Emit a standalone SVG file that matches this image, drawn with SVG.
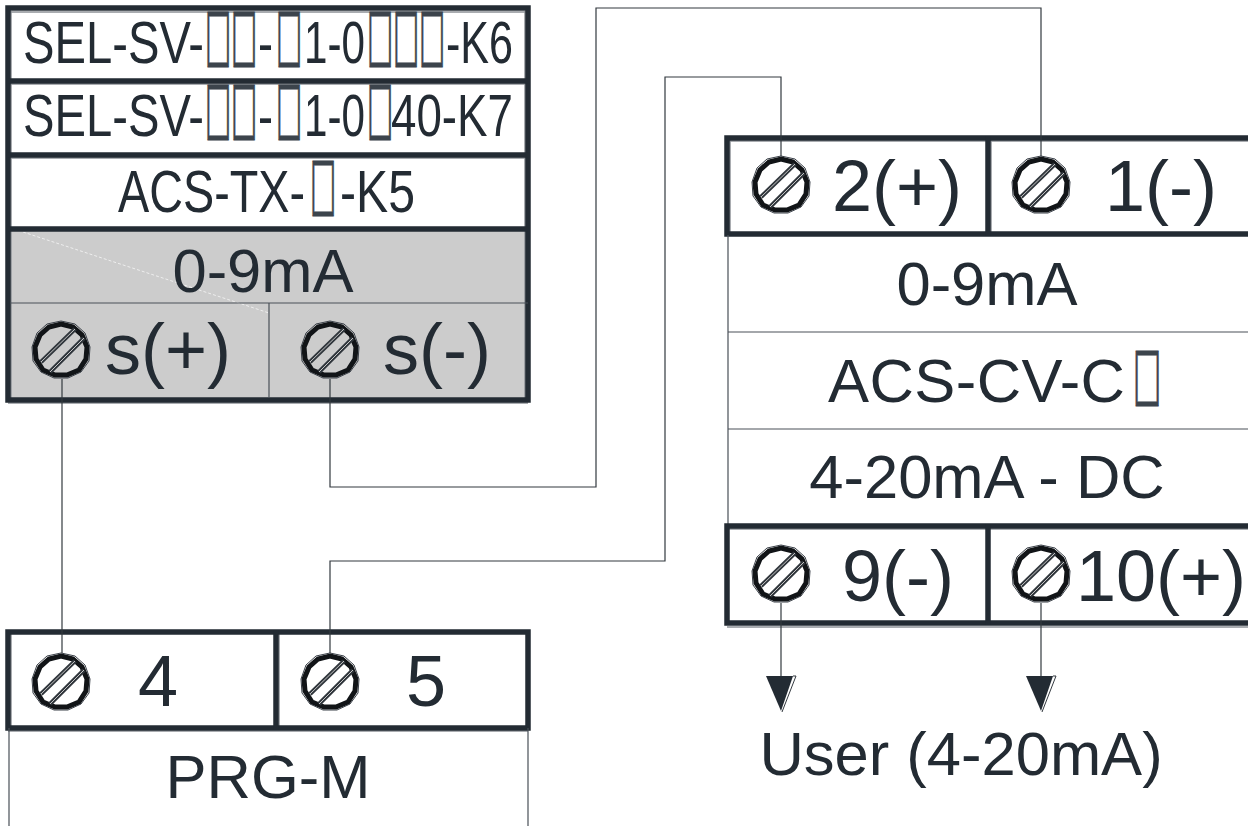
<svg xmlns="http://www.w3.org/2000/svg" xmlns:xlink="http://www.w3.org/1999/xlink" width="1248" height="826" viewBox="0 0 1248 826">
<style>
text{font-family:"Liberation Sans",Arial,sans-serif;fill:#232b33;font-size:61.5px;text-anchor:middle}
.big{font-size:72px}
.cond{font-size:60px;text-anchor:start}
.box{font-family:"DejaVu Sans",sans-serif;font-size:72px;fill:#3c444c;stroke:#3c444c;stroke-width:1}
.frame{fill:none;stroke:#232b33;stroke-width:5.5}
.shade{fill:none;stroke:#8d9196;stroke-width:1.5}
.thin{fill:none;stroke:#4a5058;stroke-width:1.2}
.wire{fill:none;stroke:#33393f;stroke-width:1.2}
</style>
<defs>
<g id="screw">
<polygon points="0,-26 12,-23 21,-15 26,-3 25,9 18,20 6,25 -6,25 -18,20 -25,9 -26,-3 -21,-15 -12,-23" fill="none" stroke="#111417" stroke-width="5"/>
<polygon points="0,-29 14,-26 24,-17 29,-3 28,11 20,22 7,28 -7,28 -20,22 -28,11 -29,-3 -24,-17 -14,-26" fill="none" stroke="#3a4048" stroke-width="1"/>
<path d="M-20,12 L14,-21 M-11,22 L23,-12" fill="none" stroke="#30363c" stroke-width="4.5"/>
<path d="M-20,12 L14,-21 M-11,22 L23,-12" fill="none" stroke="#c4c4c4" stroke-width="1"/>
</g>
<g id="tri">
<polygon points="-15,0 12,0 0,35" fill="#232b33"/>
<path d="M12,0H15L1,36" fill="none" stroke="#33393f" stroke-width="1"/>
</g>
</defs>
<rect width="1248" height="826" fill="#fff"/>
<g id="node-transmitter">
<rect x="9" y="230" width="519" height="170" fill="#cccccc"/>
<path d="M23,232L269,313" stroke="#eeeeee" stroke-width="1" stroke-dasharray="3 2" fill="none"/>
<path class="shade" d="M11,11V398M525,11V398M8,84H528M8,158H528M8,12H528M8,403H528"/>
<rect class="frame" x="8" y="8" width="520" height="392"/>
<path class="frame" d="M8,81H528M8,155H528M8,229H528"/>
<path class="thin" d="M10,303H528M269,303V398"/>
<text class="cond" y="63"><tspan x="23" textLength="181" lengthAdjust="spacingAndGlyphs">SEL-SV-</tspan><tspan class="box" x="205" y="58" textLength="26" lengthAdjust="spacingAndGlyphs">□</tspan><tspan class="box" x="231" y="58" textLength="26" lengthAdjust="spacingAndGlyphs">□</tspan><tspan x="258" y="63" textLength="15" lengthAdjust="spacingAndGlyphs">-</tspan><tspan class="box" x="276" y="58" textLength="26" lengthAdjust="spacingAndGlyphs">□</tspan><tspan x="304" y="63" textLength="61" lengthAdjust="spacingAndGlyphs">1-0</tspan><tspan class="box" x="367" y="58" textLength="26" lengthAdjust="spacingAndGlyphs">□</tspan><tspan class="box" x="393" y="58" textLength="26" lengthAdjust="spacingAndGlyphs">□</tspan><tspan class="box" x="419" y="58" textLength="26" lengthAdjust="spacingAndGlyphs">□</tspan><tspan x="446" y="63" textLength="67" lengthAdjust="spacingAndGlyphs">-K6</tspan></text>
<text class="cond" y="136"><tspan x="23" textLength="181" lengthAdjust="spacingAndGlyphs">SEL-SV-</tspan><tspan class="box" x="205" y="131" textLength="26" lengthAdjust="spacingAndGlyphs">□</tspan><tspan class="box" x="231" y="131" textLength="26" lengthAdjust="spacingAndGlyphs">□</tspan><tspan x="258" y="136" textLength="15" lengthAdjust="spacingAndGlyphs">-</tspan><tspan class="box" x="276" y="131" textLength="26" lengthAdjust="spacingAndGlyphs">□</tspan><tspan x="304" y="136" textLength="61" lengthAdjust="spacingAndGlyphs">1-0</tspan><tspan class="box" x="367" y="131" textLength="26" lengthAdjust="spacingAndGlyphs">□</tspan><tspan x="391" y="136" textLength="122" lengthAdjust="spacingAndGlyphs">40-K7</tspan></text>
<text class="cond" y="212"><tspan x="118" textLength="187" lengthAdjust="spacingAndGlyphs">ACS-TX-</tspan><tspan class="box" x="310" y="207" textLength="26" lengthAdjust="spacingAndGlyphs">□</tspan><tspan x="340" y="212" textLength="75" lengthAdjust="spacingAndGlyphs">-K5</tspan></text>
<text x="263" y="292">0-9mA</text>
<text class="big" x="168" y="374">s(+)</text>
<text class="big" x="437" y="374">s(-)</text>
<use xlink:href="#screw" href="#screw" x="61" y="350"/>
<use xlink:href="#screw" href="#screw" x="330" y="350"/>
</g>
<g id="node-converter">
<path class="shade" d="M730,139V232M727,141H1248M727,529H1248M727,627H1248M991,138V233"/>
<rect class="frame" x="727" y="138" width="530" height="96"/>
<path class="frame" d="M988,136V236"/>
<path class="thin" d="M728,235V525M728,332H1248M728,429H1248"/>
<rect class="frame" x="727" y="526" width="530" height="97"/>
<path class="frame" d="M988,524V625"/>
<text class="big" x="897" y="211">2(+)</text>
<text class="big" x="1161" y="211">1(-)</text>
<text x="987" y="305">0-9mA</text>
<text style="text-anchor:start" y="402"><tspan x="828" textLength="297">ACS-CV-C</tspan><tspan class="box" x="1133" y="397" textLength="28" lengthAdjust="spacingAndGlyphs">□</tspan></text>
<text x="987" y="498">4-20mA - DC</text>
<text class="big" x="898" y="601">9(-)</text>
<text class="big" x="1161" y="601">10(+)</text>
<use xlink:href="#screw" href="#screw" x="781" y="185"/>
<use xlink:href="#screw" href="#screw" x="1041" y="185"/>
<use xlink:href="#screw" href="#screw" x="781" y="574"/>
<use xlink:href="#screw" href="#screw" x="1041" y="574"/>
</g>
<g id="node-user">
<text x="961" y="775">User (4-20mA)</text>
</g>
<g id="node-prg">
<path class="shade" d="M8,731H528M11,634V726M279,633V727"/>
<rect class="frame" x="8" y="632" width="520" height="96"/>
<path class="frame" d="M276,630V730"/>
<path class="thin" d="M9,728V826M528,728V826"/>
<text class="big" x="158" y="706">4</text>
<text class="big" x="426" y="706">5</text>
<text x="268" y="798">PRG-M</text>
<use xlink:href="#screw" href="#screw" x="61" y="682"/>
<use xlink:href="#screw" href="#screw" x="330" y="682"/>
</g>
<g id="connectors">
<path class="wire" d="M330,379V487H596V8H1041V156"/>
<path class="wire" d="M330,653V561H665V77H781V156"/>
<path class="wire" d="M62,379V653"/>
<path class="wire" d="M781,603V680"/>
<path class="wire" d="M1041,603V680"/>
<use xlink:href="#tri" href="#tri" x="781" y="676"/>
<use xlink:href="#tri" href="#tri" x="1041" y="676"/>
</g>
</svg>
